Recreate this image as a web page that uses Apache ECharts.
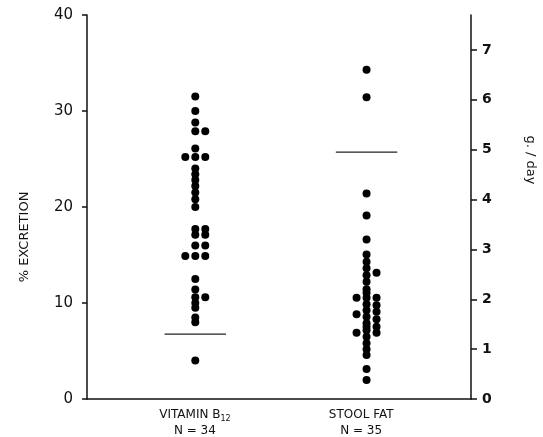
<!DOCTYPE html>
<html>
<head>
<meta charset="utf-8">
<script src="https://cdn.jsdelivr.net/npm/echarts@6/dist/echarts.min.js"></script>
<style>
  html, body { margin: 0; padding: 0; background: #fff; }
  #chart { width: 543px; height: 437px; }
</style>
</head>
<body>
<div id="chart"></div>
<script>
// % excretion of vitamin B12 (left axis)
const b12Values = [31.5, 30.0, 28.8, 27.9, 27.9, 26.1, 25.2, 25.2, 25.2, 24.0, 23.4, 22.8, 22.2, 21.5, 20.8, 20.0,
  17.7, 17.7, 17.1, 17.1, 16.0, 16.0, 14.9, 14.9, 14.9, 12.5, 11.4, 10.6, 10.6, 10.0, 9.5, 8.5, 8.0, 4.0];
// column slot of each dot (-1 left, 0 middle, 1 right)
const b12Slots = [0, 0, 0, 0, 1, 0, -1, 0, 1, 0, 0, 0, 0, 0, 0, 0,
  0, 1, 0, 1, 0, 1, -1, 0, 1, 0, 0, 0, 1, 0, 0, 0, 0, 0];

// stool fat g/day (right axis)
const fatValues = [6.6, 6.05, 4.12, 3.68, 3.2, 2.9, 2.75, 2.62, 2.48, 2.35, 2.2, 2.13, 2.03, 1.9, 1.78, 1.65, 1.52, 1.45, 1.38, 1.25, 1.12, 1.0, 0.88, 0.6, 0.38,
  2.53, 2.03, 1.88, 1.75, 1.6, 1.45, 1.33,
  2.03, 1.7, 1.33];
const fatSlots = [0, 0, 0, 0, 0, 0, 0, 0, 0, 0, 0, 0, 0, 0, 0, 0, 0, 0, 0, 0, 0, 0, 0, 0, 0,
  1, 1, 1, 1, 1, 1, 1,
  -1, -1, -1];

const b12Ref = 6.75;   // %
const fatRef = 4.95;   // g/day

const leftTicks = [0, 10, 20, 30, 40];
const rightTicks = [0, 1, 2, 3, 4, 5, 6, 7];

const b12X = 0.282, fatX = 0.728, slotW = 0.026, refHalf = 0.08;
const b12LabelX = 0.281, fatLabelX = 0.714;

const chart = echarts.init(document.getElementById('chart'));

const dotStyle = { color: '#000', opacity: 1 };
const font = 'DejaVu Sans';

chart.setOption({
  animation: false,
  backgroundColor: '#fff',
  grid: { left: 87, right: 72, top: 15, bottom: 37 },
  xAxis: {
    type: 'value', min: 0, max: 1,
    splitLine: { show: false },
    axisLine: { show: true, lineStyle: { color: '#111', width: 1.5 } },
    axisTick: { show: false },
    axisLabel: {
      customValues: [b12LabelX, fatLabelX],
      margin: 8,
      formatter: v => v < 0.5 ? '{a|VITAMIN B}{s|12}\n{a|N = 34}' : '{a|STOOL FAT}\n{a|N = 35}',
      rich: {
        a: { fontFamily: font, fontSize: 12, color: '#111', lineHeight: 16, align: 'center' },
        s: { fontFamily: font, fontSize: 8, color: '#111', padding: [7, 0, 0, 0] }
      }
    }
  },
  yAxis: [{
    type: 'value', min: 0, max: 40, interval: 10,
    splitLine: { show: false },
    axisLine: { show: true, lineStyle: { color: '#111', width: 1.5 } },
    axisTick: { show: true, length: 5, lineStyle: { color: '#111', width: 1.5 } },
    axisLabel: { fontFamily: font, fontSize: 15, color: '#111', margin: 14, customValues: leftTicks }
  }, {
    type: 'value', min: 0, max: 7.7, position: 'right',
    splitLine: { show: false },
    axisLine: { show: true, lineStyle: { color: '#111', width: 1.5 } },
    axisTick: { show: true, length: 6, lineStyle: { color: '#111', width: 1.5 }, customValues: rightTicks },
    axisLabel: { fontFamily: font, fontSize: 14, fontWeight: 'bold', color: '#111', margin: 11, customValues: rightTicks }
  }],
  graphic: [{
    type: 'text', x: 25, y: 237, rotation: Math.PI / 2,
    style: { text: '% EXCRETION', fontFamily: font, fontSize: 13, fill: '#111', align: 'center', verticalAlign: 'middle' }
  }, {
    type: 'text', x: 530, y: 160, rotation: -Math.PI / 2,
    style: { text: 'g. / day', fontFamily: font, fontSize: 13, fill: '#111', align: 'center', verticalAlign: 'middle' }
  }],
  series: [{
    type: 'scatter', yAxisIndex: 0, symbol: 'circle', symbolSize: 8, itemStyle: dotStyle,
    data: b12Values.map((v, i) => [b12X + b12Slots[i] * slotW, v])
  }, {
    type: 'scatter', yAxisIndex: 1, symbol: 'circle', symbolSize: 8, itemStyle: dotStyle,
    data: fatValues.map((v, i) => [fatX + fatSlots[i] * slotW, v])
  }, {
    type: 'line', yAxisIndex: 0, symbol: 'none', lineStyle: { color: '#222', width: 1.2 },
    data: [[b12X - refHalf, b12Ref], [b12X + refHalf, b12Ref]]
  }, {
    type: 'line', yAxisIndex: 1, symbol: 'none', lineStyle: { color: '#222', width: 1.2 },
    data: [[fatX - refHalf, fatRef], [fatX + refHalf, fatRef]]
  }]
});
</script>
</body>
</html>
